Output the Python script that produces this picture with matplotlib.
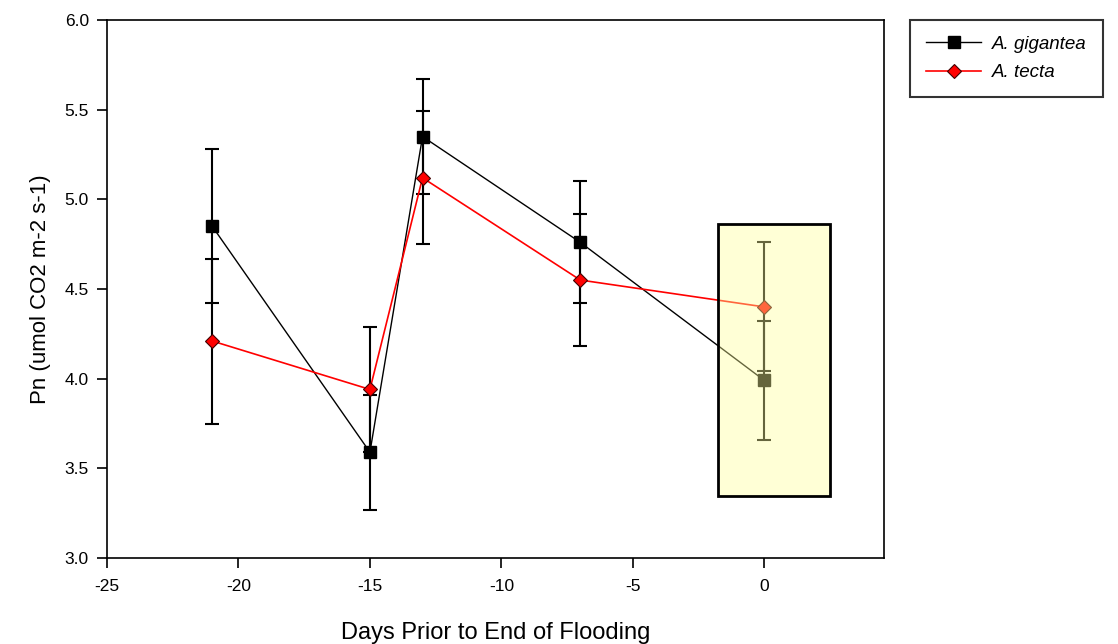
import matplotlib.pyplot as plt
from matplotlib.patches import Rectangle

#data
days = [-21, -15, -13, -7, 0]
gigantea = [4.85, 3.59, 5.35, 4.76, 3.99]
gigantea_err = [0.43, 0.32, 0.32, 0.34, 0.33]
tecta = [4.21, 3.94, 5.12, 4.55, 4.40]
tecta_err = [0.46, 0.35, 0.37, 0.37, 0.36]
x_ticks = [-25, -20, -15, -10, -5, 0]
y_ticks = [3.0, 3.5, 4.0, 4.5, 5.0, 5.5, 6.0]

plt.rcParams['font.family'] = ['Liberation Sans', 'DejaVu Sans']

fig = plt.figure(figsize=(11.18, 6.44), dpi=100)
ax = fig.add_axes([0.0957, 0.1335, 0.6950, 0.8355])

#error bars first, then the lines
ax.errorbar(days, gigantea, yerr=gigantea_err, fmt='none', ecolor='black',
            elinewidth=1.5, capsize=5, capthick=1.5, zorder=2)
ax.errorbar(days, tecta, yerr=tecta_err, fmt='none', ecolor='black',
            elinewidth=1.5, capsize=5, capthick=1.5, zorder=2)
ax.plot(days, gigantea, color='black', linewidth=1, marker='s', markersize=8.5,
        markerfacecolor='black', markeredgecolor='black', label='A. gigantea', zorder=3)
ax.plot(days, tecta, color='red', linewidth=1.2, marker='D', markersize=7,
        markerfacecolor='red', markeredgecolor='#400000', markeredgewidth=0.8,
        label='A. tecta', zorder=4)

#highlight box around day 0
box = Rectangle((-1.75, 3.345), 4.25, 1.52, facecolor=(1, 1, 0.6, 0.4),
                edgecolor='black', linewidth=2, zorder=10)
ax.add_patch(box)

ax.set_xlim(-25, 4.55)
ax.set_ylim(3.0, 6.0)
ax.set_xticks(x_ticks)
ax.set_xticklabels([str(t) for t in x_ticks])
ax.set_yticks(y_ticks)
ax.set_yticklabels(['%.1f' % t for t in y_ticks])
ax.tick_params(direction='out', length=7, width=1.2, labelsize=12.5, pad=6)
ax.tick_params(axis='x', pad=8)
for s in ax.spines.values():
    s.set_linewidth(1.2)

ax.set_xlabel('Days Prior to End of Flooding', fontsize=17, labelpad=20)
ax.set_ylabel('Pn (umol CO2 m-2 s-1)', fontsize=16, labelpad=10)

leg = ax.legend(loc='upper left', bbox_to_anchor=(1.034, 1.0), borderaxespad=0,
                frameon=True, fancybox=False, edgecolor='black', handlelength=2.9,
                borderpad=0.85, labelspacing=0.6, handletextpad=0.6,
                prop={'style': 'italic', 'size': 13.5})
leg.get_frame().set_linewidth(1.5)

fig.savefig('out.png', dpi=100)
